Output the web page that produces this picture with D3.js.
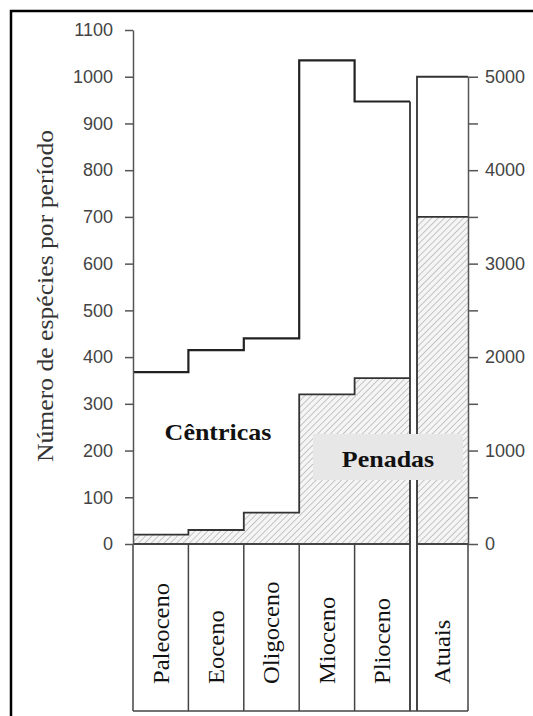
<!DOCTYPE html>
<html>
<head>
<meta charset="utf-8">
<script src="https://cdnjs.cloudflare.com/ajax/libs/d3/7.8.5/d3.min.js"></script>
<style>
    body { margin: 0; background: #fff; }
    svg { display: block; }
    .axis text { font-family: "Liberation Sans", Arial, sans-serif; font-size: 18px; fill: #444; }
    .axis path, .axis line { stroke: #555; stroke-width: 1.5; }
    .lbl { font-family: "Liberation Serif", "Times New Roman", serif; fill: #111; }
</style>
</head>
<body>
<svg id="chart" width="533" height="716"></svg>
<script>
// periods (left axis, species per period)
var periodos = ["Paleoceno", "Eoceno", "Oligoceno", "Mioceno", "Plioceno"];
var total = [368, 415, 440, 1035, 947];     // upper step line (centricas + penadas)
var penadas = [20, 30, 67, 320, 355];       // hatched part

// current species (right axis)
var atuais = "Atuais";
var atuaisTotal = 5000;
var atuaisPenadas = 3500;

var leftTicks = [0, 100, 200, 300, 400, 500, 600, 700, 800, 900, 1000, 1100];
var leftLabels = ["0", "100", "200", "300", "400", "500", "600", "700", "800", "900", "1000", "1100"];
var rightTicks = [0, 500, 1000, 1500, 2000, 2500, 3000, 3500, 4000, 4500, 5000];
var rightLabels = ["0", "", "1000", "", "2000", "", "3000", "", "4000", "", "5000"];

var yTitle = "Número de espécies por período";

var svg = d3.select("#chart");
var boxBottom = 711;

var y = d3.scaleLinear().domain([0, 1100]).range([544, 30]),
    yR = d3.scaleLinear().domain([0, 5000]).range([y(0), y(1000)]),
    x = d3.scaleBand().domain(periodos).range([133, 410]),
    xA = d3.scaleBand().domain([atuais]).range([417, 468]);

var x0 = x.range()[0], x1 = x.range()[1],
    a0 = xA(atuais), a1 = a0 + xA.bandwidth();

// hatch pattern
var pat = svg.append("defs").append("pattern")
    .attr("id", "hatch")
    .attr("patternUnits", "userSpaceOnUse")
    .attr("width", 4.5).attr("height", 4.5)
    .attr("patternTransform", "rotate(45)");
pat.append("rect").attr("width", 4.5).attr("height", 4.5).attr("fill", "#f5f5f5");
pat.append("line").attr("x1", 0).attr("y1", 0).attr("x2", 0).attr("y2", 4.5)
    .attr("stroke", "#959595").attr("stroke-width", 1);

// outer frame
svg.append("rect")
    .attr("x", 11).attr("y", 11).attr("width", 700).attr("height", 900)
    .attr("fill", "none").attr("stroke", "#000").attr("stroke-width", 2.5);

function stepPts(vals) {
    var pts = periodos.map(function(p, i) { return [x(p), y(vals[i])]; });
    pts.push([x1, y(vals[vals.length - 1])]);
    return pts;
}

// hatched areas
svg.append("path")
    .datum(stepPts(penadas))
    .attr("fill", "url(#hatch)")
    .attr("d", d3.area().curve(d3.curveStepAfter)
        .x(function(d) { return d[0]; }).y0(y(0)).y1(function(d) { return d[1]; }));

svg.append("rect")
    .attr("x", a0).attr("width", xA.bandwidth())
    .attr("y", yR(atuaisPenadas)).attr("height", yR(0) - yR(atuaisPenadas))
    .attr("fill", "url(#hatch)");

var line = d3.line().curve(d3.curveStepAfter);

svg.append("path").datum(stepPts(penadas))
    .attr("d", line).attr("fill", "none").attr("stroke", "#333").attr("stroke-width", 1.8);

svg.append("path").datum(stepPts(total))
    .attr("d", line).attr("fill", "none").attr("stroke", "#222").attr("stroke-width", 2.2);

// atuais bar outline
svg.append("path")
    .attr("d", "M" + a0 + "," + boxBottom + "V" + yR(atuaisTotal) + "H" + a1)
    .attr("fill", "none").attr("stroke", "#333").attr("stroke-width", 1.8);
svg.append("line")
    .attr("x1", a0).attr("x2", a1).attr("y1", yR(atuaisPenadas)).attr("y2", yR(atuaisPenadas))
    .attr("stroke", "#333").attr("stroke-width", 1.8);

// double line between Plioceno and Atuais
svg.append("line")
    .attr("x1", x1).attr("x2", x1)
    .attr("y1", y(total[total.length - 1])).attr("y2", boxBottom)
    .attr("stroke", "#333").attr("stroke-width", 1.8);

// baseline
svg.append("line").attr("x1", x0).attr("x2", x1).attr("y1", y(0)).attr("y2", y(0))
    .attr("stroke", "#444").attr("stroke-width", 1.8);
svg.append("line").attr("x1", a0).attr("x2", a1).attr("y1", y(0)).attr("y2", y(0))
    .attr("stroke", "#444").attr("stroke-width", 1.8);

// label boxes under the chart
var seps = periodos.slice(1).map(function(p) { return x(p); }).concat([x0, a1]);
svg.selectAll("line.sep")
    .data(seps)
    .enter().append("line")
    .attr("class", "sep")
    .attr("x1", function(d) { return d; }).attr("x2", function(d) { return d; })
    .attr("y1", y(0)).attr("y2", boxBottom)
    .attr("stroke", "#444").attr("stroke-width", 1.5);
svg.append("line").attr("x1", x0).attr("x2", a1).attr("y1", boxBottom).attr("y2", boxBottom)
    .attr("stroke", "#444").attr("stroke-width", 1.5);

var cats = periodos.map(function(p) { return { name: p, cx: x(p) + x.bandwidth() / 2 }; });
cats.push({ name: atuais, cx: a0 + xA.bandwidth() / 2 });

svg.selectAll("text.cat")
    .data(cats)
    .enter().append("text")
    .attr("class", "cat lbl")
    .attr("transform", function(d) { return "translate(" + d.cx + ",684) rotate(-90) scale(1.07,1)"; })
    .attr("dy", "0.34em")
    .style("font-size", "23px")
    .attr("text-anchor", "start")
    .text(function(d) { return d.name; });

// axes
svg.append("g")
    .attr("class", "axis")
    .attr("transform", "translate(" + x0 + ",0)")
    .call(d3.axisLeft(y).tickValues(leftTicks).tickSize(8).tickSizeOuter(0).tickPadding(12)
        .tickFormat(function(d, i) { return leftLabels[i]; }));

svg.append("g")
    .attr("class", "axis")
    .attr("transform", "translate(" + a1 + ",0)")
    .call(d3.axisRight(yR).tickValues(rightTicks).tickSize(10).tickSizeOuter(0).tickPadding(7)
        .tickFormat(function(d, i) { return rightLabels[i]; }));

// labels
svg.append("rect")
    .attr("x", 313).attr("y", 434).attr("width", 150).attr("height", 46)
    .attr("fill", "#e7e7e7");

svg.append("text")
    .attr("class", "lbl")
    .attr("transform", "translate(218,440) scale(1.13,1)")
    .attr("text-anchor", "middle")
    .style("font-size", "23px").style("font-weight", "bold")
    .text("Cêntricas");

svg.append("text")
    .attr("class", "lbl")
    .attr("transform", "translate(388,467) scale(1.13,1)")
    .attr("text-anchor", "middle")
    .style("font-size", "23px").style("font-weight", "bold")
    .text("Penadas");

svg.append("text")
    .attr("class", "lbl")
    .attr("transform", "translate(53,296) rotate(-90) scale(1.07,1)")
    .attr("text-anchor", "middle")
    .style("font-size", "24px").style("fill", "#333")
    .text(yTitle);
</script>
</body>
</html>
